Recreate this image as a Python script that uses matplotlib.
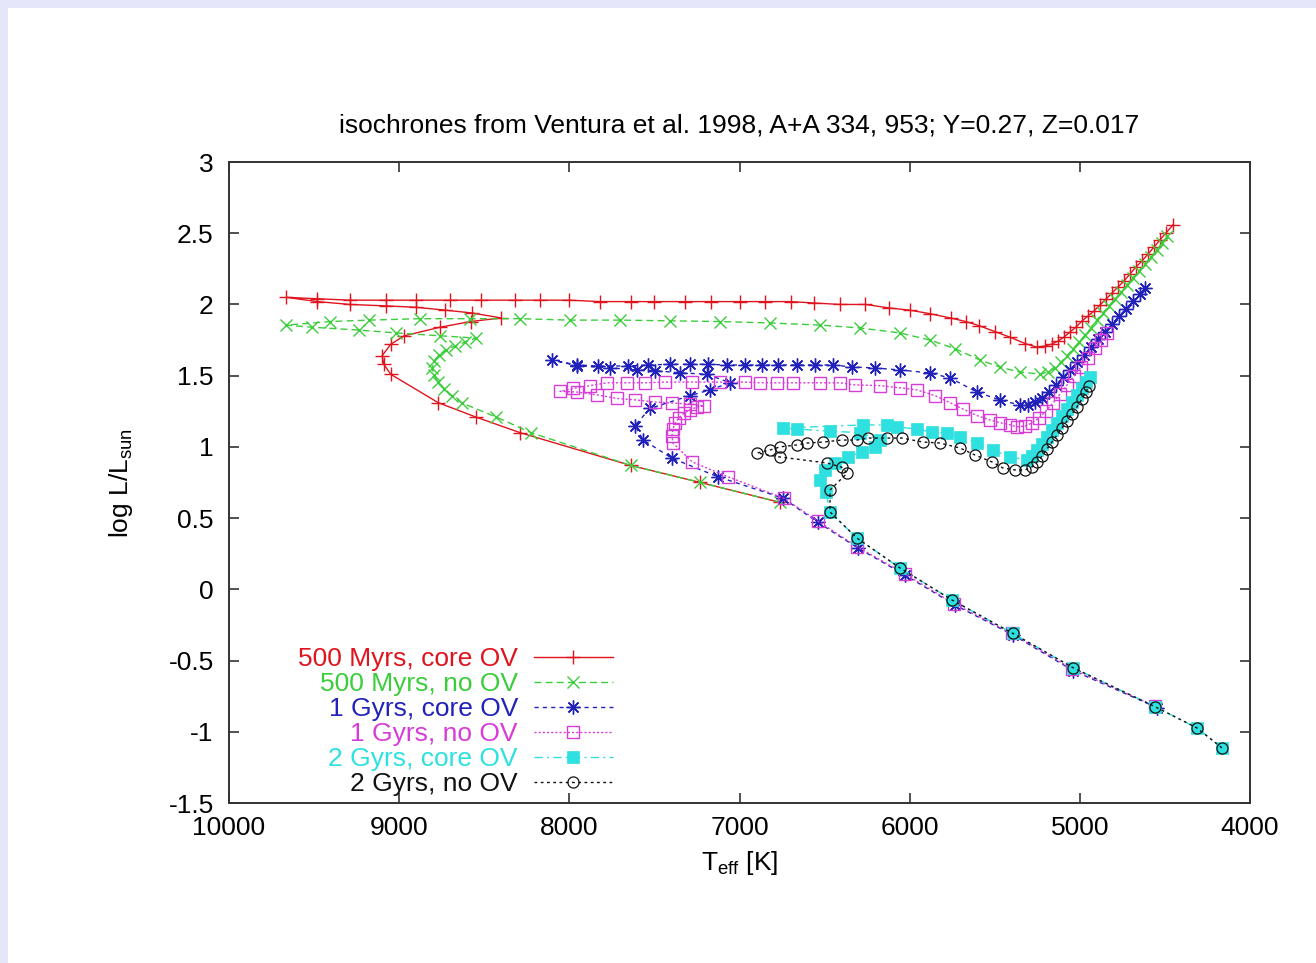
import matplotlib
matplotlib.use("Agg")
import matplotlib.pyplot as plt
from matplotlib.patches import Rectangle
from matplotlib.ticker import FormatStrFormatter, MultipleLocator

plt.rcParams['font.family'] = ['Liberation Sans', 'DejaVu Sans']
plt.rcParams['axes.unicode_minus'] = False
plt.rcParams['mathtext.fontset'] = 'custom'
plt.rcParams['mathtext.rm'] = 'Liberation Sans'

# ---------------- data (Teff [K], log L/Lsun) ----------------
T_red = [6760, 7230, 7640, 8290, 8550, 8770, 9050, 9090, 9100, 9050,
         8970, 8760, 8580, 8400, 8570, 8730, 8900, 9080, 9290, 9480,
         9665, 9480, 9290, 9080, 8900, 8700, 8520, 8320, 8170, 8000,
         7820, 7640, 7500, 7320, 7170, 7000, 6850, 6700, 6560, 6410,
         6260, 6120, 6000, 5880, 5760, 5670, 5590, 5500, 5410, 5320,
         5252, 5205, 5164, 5128, 5093, 5058, 5023, 4987, 4952, 4917,
         4882, 4846, 4811, 4776, 4741, 4705, 4670, 4635, 4599, 4564,
         4529, 4494, 4453]
L_red = [0.61, 0.75, 0.87, 1.10, 1.21, 1.31, 1.51, 1.58, 1.64, 1.72,
         1.78, 1.84, 1.88, 1.905, 1.94, 1.96, 1.98, 1.99, 2.00, 2.02,
         2.05, 2.04, 2.03, 2.03, 2.03, 2.03, 2.03, 2.03, 2.03, 2.03,
         2.02, 2.02, 2.02, 2.02, 2.02, 2.02, 2.02, 2.02, 2.01, 2.00,
         2.00, 1.975, 1.96, 1.935, 1.905, 1.88, 1.85, 1.81, 1.77, 1.725,
         1.70, 1.708, 1.722, 1.743, 1.771, 1.806, 1.841, 1.884, 1.919, 1.954,
         1.996, 2.038, 2.08, 2.122, 2.164, 2.214, 2.263, 2.305, 2.354, 2.403,
         2.453, 2.502, 2.558]

T_grn = [6760, 7230, 7640, 8225, 8430, 8631, 8690, 8737, 8772, 8795,
         8807, 8795, 8766, 8725, 8672, 8613, 8548, 8760, 9019, 9236,
         9512, 9665, 9406, 9177, 8878, 8584, 8290, 7996, 7702, 7408,
         7115, 6821, 6527, 6292, 6057, 5881, 5734, 5587, 5469, 5352,
         5234, 5187, 5146, 5111, 5076, 5040, 5005, 4970, 4934, 4899,
         4864, 4829, 4794, 4758, 4723, 4688, 4652, 4617, 4582, 4547,
         4517, 4488]
L_grn = [0.61, 0.75, 0.87, 1.10, 1.21, 1.308, 1.358, 1.407, 1.455, 1.505,
         1.554, 1.603, 1.645, 1.68, 1.708, 1.736, 1.764, 1.78, 1.80, 1.82,
         1.84, 1.855, 1.88, 1.89, 1.90, 1.90, 1.90, 1.89, 1.89, 1.885,
         1.88, 1.87, 1.855, 1.835, 1.80, 1.75, 1.69, 1.61, 1.56, 1.525,
         1.512, 1.526, 1.554, 1.596, 1.638, 1.687, 1.736, 1.785, 1.835, 1.891,
         1.94, 1.989, 2.038, 2.087, 2.136, 2.186, 2.235, 2.284, 2.333, 2.382,
         2.431, 2.48]

T_blu = [4547, 5040, 5393, 5734, 6027, 6304, 6539, 6744, 7126, 7397,
         7567, 7614, 7526, 7291, 7173, 7056, 7191, 7350, 7497, 7602,
         7761, 7955, 8102, 7955, 7832, 7655, 7538, 7408, 7291, 7185,
         7074, 6968, 6868, 6774, 6662, 6556, 6451, 6339, 6204, 6057,
         5881, 5763, 5604, 5469, 5352, 5305, 5264, 5222, 5181, 5140,
         5099, 5058, 5017, 4976, 4934, 4893, 4852, 4811, 4770, 4729,
         4688, 4647, 4617]
L_blu = [-0.83, -0.57, -0.32, -0.11, 0.10, 0.29, 0.47, 0.64, 0.79, 0.92,
         1.05, 1.15, 1.27, 1.36, 1.40, 1.45, 1.51, 1.52, 1.535, 1.54,
         1.555, 1.57, 1.61, 1.575, 1.568, 1.568, 1.575, 1.58, 1.58, 1.58,
         1.575, 1.575, 1.575, 1.575, 1.575, 1.575, 1.575, 1.561, 1.554, 1.54,
         1.519, 1.484, 1.385, 1.329, 1.294, 1.294, 1.315, 1.343, 1.385, 1.434,
         1.49, 1.54, 1.596, 1.645, 1.701, 1.758, 1.807, 1.863, 1.919, 1.968,
         2.024, 2.073, 2.115]

T_mag = [4560, 5045, 5400, 5740, 6030, 6310, 6540, 6740, 7068, 7279,
         7391, 7397, 7391, 7379, 7356, 7326, 7291, 7250, 7209, 7291,
         7397, 7497, 7614, 7720, 7837, 7955, 8055, 7978, 7879, 7779,
         7661, 7555, 7438, 7279, 7115, 6968, 6880, 6780, 6686, 6527,
         6409, 6321, 6174, 6057, 5957, 5851, 5763, 5687, 5604, 5528,
         5469, 5410, 5369, 5322, 5281, 5240, 5199, 5158, 5117, 5076,
         5034, 4993, 4952, 4911, 4876, 4840]
L_mag = [-0.82, -0.56, -0.31, -0.10, 0.11, 0.30, 0.48, 0.64, 0.79, 0.895,
         1.027, 1.076, 1.126, 1.168, 1.203, 1.238, 1.259, 1.28, 1.287, 1.301,
         1.308, 1.315, 1.33, 1.34, 1.365, 1.385, 1.39, 1.41, 1.43, 1.45,
         1.45, 1.45, 1.455, 1.455, 1.455, 1.455, 1.45, 1.45, 1.45, 1.45,
         1.45, 1.435, 1.43, 1.415, 1.40, 1.36, 1.31, 1.266, 1.22, 1.189,
         1.17, 1.155, 1.14, 1.147, 1.168, 1.203, 1.252, 1.308, 1.371, 1.434,
         1.498, 1.561, 1.624, 1.694, 1.75, 1.80]

T_cyn = [4165, 4312, 4558, 5040, 5393, 5751, 6057, 6310, 6468, 6492,
         6527, 6498, 6439, 6362, 6280, 6204, 6174, 6292, 6468, 6662,
         6744, 6274, 6133, 6074, 5957, 5869, 5781, 5704, 5604, 5510,
         5410, 5311, 5281, 5252, 5222, 5193, 5164, 5134, 5105, 5076,
         5046, 5017, 4987, 4964, 4940]
L_cyn = [-1.113, -0.973, -0.824, -0.55, -0.31, -0.075, 0.15, 0.36, 0.543, 0.68,
         0.77, 0.84, 0.89, 0.93, 0.965, 1.00, 1.048, 1.10, 1.11, 1.125,
         1.133, 1.154, 1.154, 1.14, 1.125, 1.104, 1.097, 1.07, 1.027, 0.978,
         0.93, 0.908, 0.936, 0.978, 1.02, 1.069, 1.118, 1.168, 1.217, 1.266,
         1.315, 1.364, 1.413, 1.455, 1.49]

T_blk = [4165, 4312, 4558, 5040, 5393, 5751, 6057, 6310, 6468, 6468,
         6368, 6398, 6486, 6762, 6897, 6821, 6762, 6662, 6603, 6509,
         6398, 6310, 6245, 6133, 6045, 5922, 5822, 5704, 5616, 5516,
         5452, 5381, 5322, 5281, 5252, 5222, 5193, 5164, 5134, 5105,
         5076, 5046, 5017, 4987, 4964, 4946]
L_blk = [-1.113, -0.973, -0.824, -0.55, -0.31, -0.075, 0.15, 0.36, 0.543, 0.697,
         0.815, 0.857, 0.887, 0.929, 0.957, 0.978, 1.0, 1.014, 1.027, 1.034,
         1.048, 1.048, 1.062, 1.062, 1.062, 1.034, 1.027, 0.992, 0.943, 0.894,
         0.852, 0.838, 0.838, 0.859, 0.894, 0.936, 0.985, 1.034, 1.083, 1.132,
         1.182, 1.231, 1.28, 1.336, 1.385, 1.427]

labels = ["500 Myrs, core OV", "500 Myrs, no OV", "1 Gyrs, core OV",
          "1 Gyrs, no OV", "2 Gyrs, core OV", "2 Gyrs, no OV"]
title = "isochrones from Ventura et al. 1998, A+A 334, 953; Y=0.27, Z=0.017"
xticks = [10000, 9000, 8000, 7000, 6000, 5000, 4000]

# ---------------- figure ----------------
W, H = 1316, 963
fig = plt.figure(figsize=(W / 100, H / 100), dpi=100, facecolor='white')
lav = '#e6e6fa'
fig.patches.append(Rectangle((0, 1 - 8 / H), 1, 8 / H, transform=fig.transFigure,
                             facecolor=lav, edgecolor='none', zorder=-10))
fig.patches.append(Rectangle((0, 0), 8 / W, 1, transform=fig.transFigure,
                             facecolor=lav, edgecolor='none', zorder=-10))

ax = fig.add_axes([229 / W, 1 - 803 / H, (1250 - 229) / W, (803 - 162) / H])

FS = 19
ms = 8
lw = 1.0
c_red = '#e0141e'
c_grn = '#3ccd3c'
c_blu = '#2222bb'
c_mag = '#d83cd8'
c_cyn = '#2ee0e0'
c_blk = '#111111'

ax.plot(T_red, L_red, color=c_red, lw=lw, ls='-', marker='+', ms=ms + 2,
        mew=1.0, label=labels[0])
ax.plot(T_grn, L_grn, color=c_grn, lw=lw, ls=(0, (5, 3)), marker='x', ms=ms,
        mew=1.0, label=labels[1])
ax.plot(T_blu, L_blu, color=c_blu, lw=lw, ls=(0, (3, 3)), marker=(8, 2, 0),
        ms=ms + 2, mew=1.0, label=labels[2])
ax.plot(T_mag, L_mag, color=c_mag, lw=lw, ls=(0, (1.5, 1.5)), marker='s', ms=ms,
        mfc='none', mew=1.0, label=labels[3])
ax.plot(T_cyn, L_cyn, color=c_cyn, lw=lw, ls=(0, (6, 3, 1.5, 3)), marker='s',
        ms=ms, mew=0.5, label=labels[4])
ax.plot(T_blk, L_blk, color=c_blk, lw=lw, ls=(0, (2, 2.5)), marker='o', ms=ms,
        mfc='none', mew=0.9, label=labels[5])

ax.set_xlim(10000, 4000)
ax.set_ylim(-1.5, 3)
ax.set_xticks(xticks)
ax.yaxis.set_major_locator(MultipleLocator(0.5))
ax.xaxis.set_major_formatter(FormatStrFormatter('%g'))
ax.yaxis.set_major_formatter(FormatStrFormatter('%g'))
ax.tick_params(direction='in', top=True, right=True, length=7, width=1.2,
               labelsize=FS, color='#333333')
ax.tick_params(axis='x', pad=9)
ax.tick_params(axis='y', pad=11)
for s in ax.spines.values():
    s.set_linewidth(1.4)
    s.set_color('#333333')

ax.set_title(title, fontsize=FS, pad=21)
ax.set_xlabel(r'T$\mathregular{_{eff}}$ [K]', fontsize=FS)
ax.set_ylabel(r'log L/L$\mathregular{_{sun}}$', fontsize=FS)
ax.xaxis.set_label_coords(0.5, -0.072)
ax.yaxis.set_label_coords(-0.092, 0.5)

leg = ax.legend(loc='lower left', bbox_to_anchor=(0.0496, -0.0184), frameon=False,
                markerfirst=False, fontsize=FS, labelcolor='linecolor',
                handlelength=3.0, handletextpad=0.6, labelspacing=0.04,
                borderpad=0.2)

fig.savefig('out.png', dpi=100, facecolor='white')
